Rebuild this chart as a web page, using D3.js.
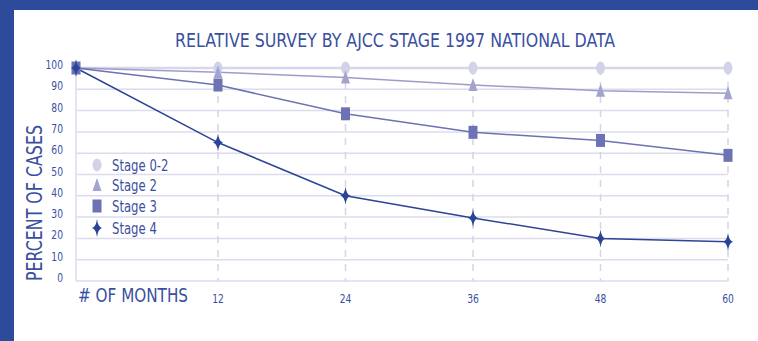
<!DOCTYPE html>
<html>
<head>
<meta charset="utf-8">
<script src="https://cdn.jsdelivr.net/npm/d3@7"></script>
<style>
  body { margin: 0; background: #fff; }
  svg text { font-family: "Liberation Sans Narrow", "DejaVu Sans Condensed", "Liberation Sans", sans-serif; fill: #3a4f9f; }
</style>
</head>
<body>
<svg width="758" height="341"></svg>
<script>
'use strict';

// data
var months = [0, 12, 24, 36, 48, 60];
var stage02 = [100, 100, 100, 100, 100, 100];
var stage2 = [100, 98, 95.5, 92, 89.3, 88.2];
var stage3 = [100, 92, 78.5, 69.8, 66, 59];
var stage4 = [100, 65, 40, 29.6, 20, 18.4];
var seriesNames = ["Stage 0-2", "Stage 2", "Stage 3", "Stage 4"];
var yTicks = [0, 10, 20, 30, 40, 50, 60, 70, 80, 90, 100];
var xTicks = [12, 24, 36, 48, 60];

var svg = d3.select("svg");

// squeeze text horizontally, the original uses a condensed face
function condense(sel, k) {
  sel.each(function() {
    var w = this.getComputedTextLength();
    d3.select(this).attr("textLength", w * k).attr("lengthAdjust", "spacingAndGlyphs");
  });
}

// frame
svg.append("rect").attr("x", 0).attr("y", 0).attr("width", 758).attr("height", 10).attr("fill", "#2d4a9b");
svg.append("rect").attr("x", 0).attr("y", 0).attr("width", 14).attr("height", 341).attr("fill", "#2d4a9b");

// the first gap is wider than the others in the original
var x = d3.scaleLinear().domain([0, 12, 60]).range([76, 218, 728]);
var y = d3.scaleLinear().domain([0, 100]).range([281, 68]);

svg.append("text")
  .attr("x", 395).attr("y", 47)
  .attr("text-anchor", "middle")
  .attr("textLength", 440).attr("lengthAdjust", "spacingAndGlyphs")
  .style("font-size", "19px")
  .text("RELATIVE SURVEY BY AJCC STAGE 1997 NATIONAL DATA");

// horizontal grid
svg.append("g").selectAll("line")
  .data(yTicks)
  .enter().append("line")
  .attr("x1", x(0)).attr("x2", x(60))
  .attr("y1", function(d) { return y(d); })
  .attr("y2", function(d) { return y(d); })
  .attr("stroke", "#dcdcee").attr("stroke-width", 1.5);

// left axis line
svg.append("line")
  .attr("x1", x(0)).attr("x2", x(0))
  .attr("y1", y(100)).attr("y2", y(0))
  .attr("stroke", "#dcdcee").attr("stroke-width", 1.5);

// vertical dashed lines
svg.append("g").selectAll("line")
  .data(xTicks)
  .enter().append("line")
  .attr("x1", function(d) { return x(d); })
  .attr("x2", function(d) { return x(d); })
  .attr("y1", y(100)).attr("y2", y(0))
  .attr("stroke", "#d4d4ea").attr("stroke-width", 1.5)
  .attr("stroke-dasharray", "7,7");

// y tick labels
svg.append("g").selectAll("text")
  .data(yTicks)
  .enter().append("text")
  .attr("x", 63)
  .attr("y", function(d) { return y(d) + 1; })
  .attr("text-anchor", "end")
  .style("font-size", "12px")
  .text(function(d) { return d; })
  .call(condense, 0.85);

// x tick labels
svg.append("g").selectAll("text")
  .data(xTicks)
  .enter().append("text")
  .attr("x", function(d) { return x(d); })
  .attr("y", 303)
  .attr("text-anchor", "middle")
  .style("font-size", "12px")
  .text(function(d) { return d; })
  .call(condense, 0.85);

svg.append("text")
  .attr("x", 78).attr("y", 302)
  .style("font-size", "20px")
  .attr("textLength", 110).attr("lengthAdjust", "spacingAndGlyphs")
  .text("# OF MONTHS");

svg.append("text")
  .attr("transform", "translate(42,281) rotate(-90)")
  .attr("text-anchor", "start")
  .style("font-size", "22px")
  .attr("textLength", 156).attr("lengthAdjust", "spacingAndGlyphs")
  .text("PERCENT OF CASES");

// marker shapes
function ellipse(g) {
  g.append("ellipse").attr("rx", 4.5).attr("ry", 6.5).attr("fill", "#d2d2e9");
}
function triangle(g) {
  g.append("path").attr("d", "M0,-7L4.5,6L-4.5,6Z").attr("fill", "#a3a3cf");
}
function square(g) {
  g.append("rect").attr("x", -4.5).attr("y", -6.5).attr("width", 9).attr("height", 13).attr("fill", "#6c72b3");
}
function star(g) {
  g.append("path")
    .attr("d", "M0,-9Q1,-1 5,0Q1,1 0,9Q-1,1 -5,0Q-1,-1 0,-9Z")
    .attr("fill", "#2c4497");
}

var series = [
  { values: stage02, color: "#d6d6ec", width: 2.5, marker: ellipse },
  { values: stage2, color: "#9d9dcb", width: 1.5, marker: triangle },
  { values: stage3, color: "#6c72b3", width: 1.5, marker: square },
  { values: stage4, color: "#2c4497", width: 1.5, marker: star }
];

var line = d3.line()
  .x(function(d, i) { return x(months[i]); })
  .y(function(d) { return y(d); });

series.forEach(function(s) {
  svg.append("path")
    .attr("d", line(s.values))
    .attr("fill", "none")
    .attr("stroke", s.color)
    .attr("stroke-width", s.width);
});

series.forEach(function(s) {
  s.values.forEach(function(v, i) {
    var g = svg.append("g").attr("transform", "translate(" + x(months[i]) + "," + y(v) + ")");
    s.marker(g);
  });
});

// legend
var legendY = [165, 185, 206, 228];
seriesNames.forEach(function(name, i) {
  var g = svg.append("g").attr("transform", "translate(97," + legendY[i] + ")");
  series[i].marker(g);
  svg.append("text")
    .attr("x", 112).attr("y", legendY[i] + 5.5)
    .style("font-size", "16px")
    .text(name)
    .call(condense, 0.81);
});
</script>
</body>
</html>
